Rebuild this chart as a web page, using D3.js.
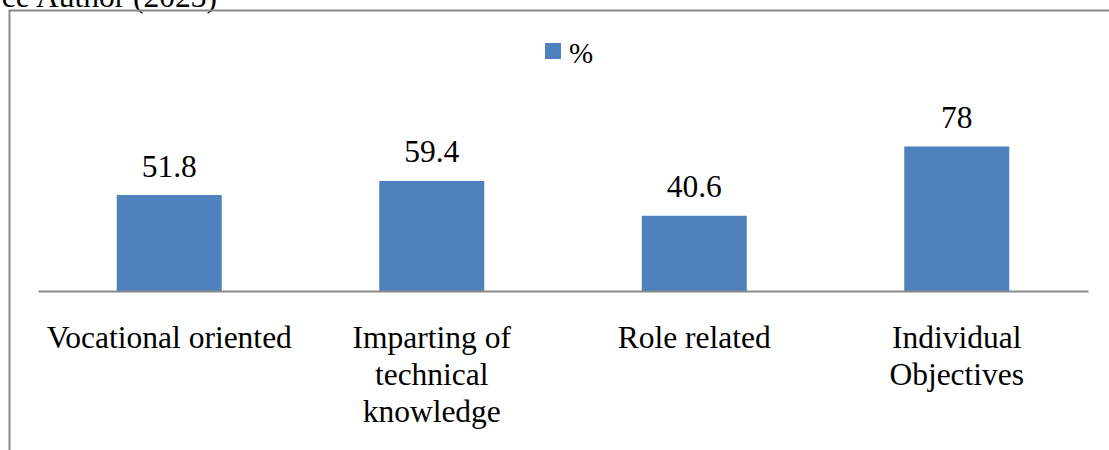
<!DOCTYPE html>
<html>
<head>
<meta charset="utf-8">
<script src="https://cdn.jsdelivr.net/npm/d3@7"></script>
<style>
  html, body { margin: 0; padding: 0; background: #ffffff; overflow: hidden; }
  svg { display: block; }
</style>
</head>
<body>
<svg id="chart" width="1109" height="450"></svg>
<script>
// Chart data
const categories = [
  "Vocational oriented",
  "Imparting of\ntechnical\nknowledge",
  "Role related",
  "Individual\nObjectives"
];
const values = [51.8, 59.4, 40.6, 78];
const seriesName = "%";
const sourceNote = "Source Author (2023)";

const W = 1109, H = 450;
const svg = d3.select("#chart");

const serif = "'Liberation Serif', 'Times New Roman', Tinos, 'DejaVu Serif', serif";
const fontSize = 31.5;
const barColor = "#4f81bd";
const lineColor = "#898989";

// Plot area
const plot = { left: 38, right: 1088, base: 291 };

const x = d3.scaleBand()
  .domain(categories)
  .range([plot.left, plot.right])
  .paddingInner(0.6)
  .paddingOuter(0.3);

const y = d3.scaleLinear()
  .domain([0, 90])
  .range([plot.base, plot.base - 90 * 1.853]);

// Source note above the chart frame
svg.append("text")
  .attr("x", 217)
  .attr("y", 6.5)
  .attr("text-anchor", "end")
  .attr("font-family", serif)
  .attr("font-size", fontSize)
  .attr("fill", "#000")
  .text(sourceNote);

// Chart frame (top and left edges)
svg.append("path")
  .attr("d", `M9.5,${H} V10.5 H${W}`)
  .attr("fill", "none")
  .attr("stroke", lineColor)
  .attr("stroke-width", 2);

// Bars
svg.append("g")
  .selectAll("rect")
  .data(values)
  .join("rect")
  .attr("x", (d, i) => x(categories[i]))
  .attr("width", x.bandwidth())
  .attr("y", d => y(d))
  .attr("height", d => y(0) - y(d))
  .attr("fill", barColor);

// Value labels
svg.append("g")
  .selectAll("text")
  .data(values)
  .join("text")
  .attr("x", (d, i) => x(categories[i]) + x.bandwidth() / 2)
  .attr("y", d => y(d) - 18.5)
  .attr("text-anchor", "middle")
  .attr("font-family", serif)
  .attr("font-size", fontSize)
  .attr("fill", "#000")
  .text(d => d);

// Category axis
const axis = svg.append("g")
  .attr("transform", `translate(0,${plot.base})`)
  .call(d3.axisBottom(x).tickSize(0).tickSizeOuter(0))
  .attr("font-family", serif)
  .attr("font-size", fontSize);

axis.select(".domain")
  .attr("stroke", lineColor)
  .attr("stroke-width", 2);

axis.selectAll(".tick text")
  .attr("y", 0)
  .attr("dy", null)
  .attr("fill", "#000")
  .each(function(d) {
    const t = d3.select(this);
    t.text(null);
    d.split("\n").forEach((line, i) => {
      t.append("tspan")
        .attr("x", 0)
        .attr("y", 57 + i * 37)
        .text(line);
    });
  });

// Legend
const legend = svg.append("g").attr("transform", "translate(545,43)");
legend.append("rect")
  .attr("width", 16)
  .attr("height", 16)
  .attr("fill", barColor);
legend.append("text")
  .attr("x", 24)
  .attr("y", 20)
  .attr("font-family", serif)
  .attr("font-size", 29)
  .attr("fill", "#000")
  .text(seriesName);
</script>
</body>
</html>
